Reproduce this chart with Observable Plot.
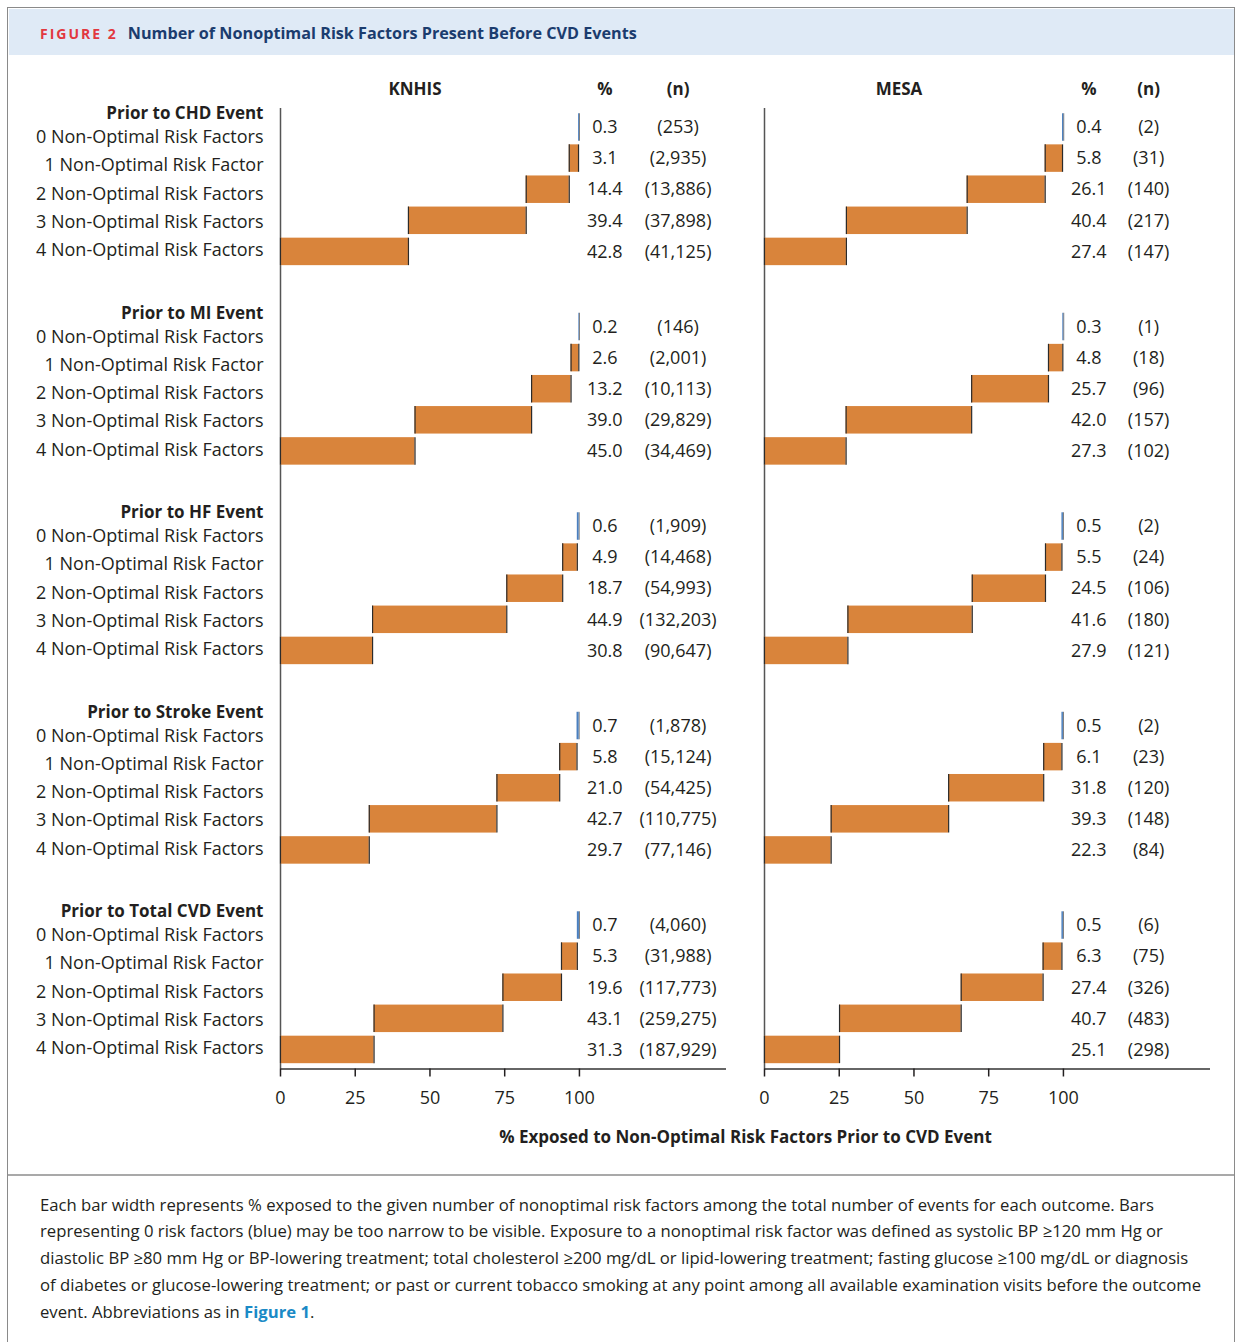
<!DOCTYPE html>
<html>
<head>
<meta charset="utf-8">
<script src="https://cdn.jsdelivr.net/npm/d3@7"></script>
<script src="https://cdn.jsdelivr.net/npm/@observablehq/plot@0.6"></script>
<style>
  body { margin: 0; width: 1238px; height: 1342px; overflow: hidden; position: relative;
         font-family: 'Open Sans', sans-serif; color: #231f20; background: #fff; }
  #box { position: absolute; left: 7px; top: 7px; width: 1228px; height: 1360px;
         border: 1.5px solid #8a8a8a; box-sizing: border-box; }
  #head { position: absolute; left: 8.5px; top: 8.5px; width: 1225px; height: 46px; background: #dfeaf6; }
  #title { position: absolute; left: 40px; top: 33px; transform: translateY(-50%);
           white-space: nowrap; font-weight: 700; }
  #title .fig { color: #e2383f; font-size: 14px; letter-spacing: 2px; margin-right: 10px; }
  #title .ttl { color: #1b3c6e; font-size: 16.2px; }
  #chart { position: absolute; left: 0; top: 60px; }
  #sep { position: absolute; left: 8px; top: 1174px; width: 1226px; height: 2px; background: #a9a9a9; }
  #caption { position: absolute; left: 40px; top: 1191.5px; font-size: 16.7px; line-height: 26.8px;
             white-space: nowrap; color: #231f20; }
  #caption b { color: #1a8ac6; }
  g[aria-label="x-axis label"] text { font-weight: 700; font-size: 17px; }
</style>
</head>
<body>
<div id="box"></div>
<div id="head"></div>
<div id="title"><span class="fig">FIGURE 2</span><span class="ttl">Number of Nonoptimal Risk Factors Present Before CVD Events</span></div>
<div id="chart"></div>
<div id="sep"></div>
<div id="caption">Each bar width represents % exposed to the given number of nonoptimal risk factors among the total number of events for each outcome. Bars<br>representing 0 risk factors (blue) may be too narrow to be visible. Exposure to a nonoptimal risk factor was defined as systolic BP &ge;120 mm Hg or<br>diastolic BP &ge;80 mm Hg or BP-lowering treatment; total cholesterol &ge;200 mg/dL or lipid-lowering treatment; fasting glucose &ge;100 mg/dL or diagnosis<br>of diabetes or glucose-lowering treatment; or past or current tobacco smoking at any point among all available examination visits before the outcome<br>event. Abbreviations as in <b>Figure 1</b>.</div>
<script>
// Cohorts, outcome groups and row labels
const cohorts = ["KNHIS", "MESA"];
const groups = ["Prior to CHD Event", "Prior to MI Event", "Prior to HF Event",
                "Prior to Stroke Event", "Prior to Total CVD Event"];
const rowLabels = ["0 Non-Optimal Risk Factors", "1 Non-Optimal Risk Factor",
                   "2 Non-Optimal Risk Factors", "3 Non-Optimal Risk Factors",
                   "4 Non-Optimal Risk Factors"];
const xTicks = [0, 25, 50, 75, 100];

// % of events with 0..4 non-optimal risk factors, one row per outcome
const knhisPct = [
  [0.3, 3.1, 14.4, 39.4, 42.8],
  [0.2, 2.6, 13.2, 39.0, 45.0],
  [0.6, 4.9, 18.7, 44.9, 30.8],
  [0.7, 5.8, 21.0, 42.7, 29.7],
  [0.7, 5.3, 19.6, 43.1, 31.3]
];
const knhisN = [
  [253, 2935, 13886, 37898, 41125],
  [146, 2001, 10113, 29829, 34469],
  [1909, 14468, 54993, 132203, 90647],
  [1878, 15124, 54425, 110775, 77146],
  [4060, 31988, 117773, 259275, 187929]
];
const mesaPct = [
  [0.4, 5.8, 26.1, 40.4, 27.4],
  [0.3, 4.8, 25.7, 42.0, 27.3],
  [0.5, 5.5, 24.5, 41.6, 27.9],
  [0.5, 6.1, 31.8, 39.3, 22.3],
  [0.5, 6.3, 27.4, 40.7, 25.1]
];
const mesaN = [
  [2, 31, 140, 217, 147],
  [1, 18, 96, 157, 102],
  [2, 24, 106, 180, 121],
  [2, 23, 120, 148, 84],
  [6, 75, 326, 483, 298]
];

// Layout (in row units along y, percent along x)
const GROUP_PITCH = 6.415;      // distance between outcome groups
const BAR_HALF = 0.442;         // half bar thickness
const LABEL_PITCH = 0.908;      // spacing of the left-hand labels
const Y_TOP = -0.611, Y_BOTTOM = 30.273;
const PCT_COL = 108.5;
const N_COL = {KNHIS: 133, MESA: 128.5};
const ORANGE = "#d9843b", BLUE = "#4a7fbf", INK = "#231f20";

const source = {KNHIS: [knhisPct, knhisN], MESA: [mesaPct, mesaN]};
const bars = [];
for (const cohort of cohorts) {
  const [pct, n] = source[cohort];
  groups.forEach((group, g) => {
    // stair-step: 4 risk factors starts at 0, each lower count continues to the right
    let x = 0;
    for (let r = 4; r >= 0; --r) {
      bars.push({cohort, group, r, x1: x, x2: x + pct[g][r], pct: pct[g][r], n: n[g][r],
                 y: g * GROUP_PITCH + r});
      x += pct[g][r];
    }
  });
}

const groupTitles = [];
const rowTexts = [];
groups.forEach((group, g) => {
  const base = g * GROUP_PITCH + 4;
  groupTitles.push({cohort: "KNHIS", text: group, y: base - 4 * LABEL_PITCH - 0.804});
  rowLabels.forEach((label, r) => {
    rowTexts.push({cohort: "KNHIS", text: label, y: base - (4 - r) * LABEL_PITCH - 0.05});
  });
});

const headers = cohorts.flatMap(cohort => [
  {cohort, text: cohort, x: 45},
  {cohort, text: "%", x: PCT_COL},
  {cohort, text: "(n)", x: N_COL[cohort]}
]);

const fmt = d3.format(",");
const lower = d => d.y - BAR_HALF, upper = d => d.y + BAR_HALF;

const chart = Plot.plot({
  width: 1238,
  height: 1100,
  marginLeft: 280,
  marginRight: 28,
  marginTop: 48,
  marginBottom: 91.5,
  style: {fontFamily: "'Open Sans', sans-serif", fontSize: "18px", color: INK, background: "transparent"},
  fx: {domain: cohorts, axis: null, paddingInner: 38 / 484, paddingOuter: 0},
  x: {domain: [0, 149.2]},
  y: {domain: [Y_TOP, Y_BOTTOM], reverse: true, axis: null},
  marks: [
    Plot.ruleX([0], {stroke: "#555", strokeWidth: 1.5}),
    Plot.ruleY([Y_BOTTOM], {stroke: "#333", strokeWidth: 1.5}),
    Plot.axisX({
      ticks: xTicks, tickSize: 8, tickPadding: 14, strokeWidth: 1.5,
      label: "% Exposed to Non-Optimal Risk Factors Prior to CVD Event",
      labelAnchor: "center", labelOffset: 74, labelArrow: "none"
    }),
    // right edge of the 0-factor bar
    Plot.ruleX(bars.filter(d => d.r === 0), {fx: "cohort", x: "x2", y1: lower, y2: upper, stroke: "#777", strokeWidth: 1}),
    Plot.rect(bars, {fx: "cohort", x1: "x1", x2: "x2", y1: lower, y2: upper,
                     fill: d => d.r === 0 ? BLUE : ORANGE}),
    // dark edges on each side of the orange steps
    Plot.ruleX(bars.filter(d => d.r > 0), {fx: "cohort", x: "x1", y1: lower, y2: upper, stroke: "#2b2b2b", strokeWidth: 1.2}),
    Plot.ruleX(bars.filter(d => d.r > 0), {fx: "cohort", x: "x2", y1: lower, y2: upper, stroke: "#2b2b2b", strokeWidth: 1.2}),
    // % and (n) columns
    Plot.text(bars, {fx: "cohort", x: () => PCT_COL, y: "y", text: d => d.pct.toFixed(1), fontSize: 18, fill: INK}),
    Plot.text(bars, {fx: "cohort", x: d => N_COL[d.cohort], y: "y", text: d => `(${fmt(d.n)})`, fontSize: 18, fill: INK}),
    // column headers
    Plot.text(headers, {fx: "cohort", x: "x", frameAnchor: "top", lineAnchor: "middle", dy: -19, text: "text",
                        fontSize: 17, fontWeight: 700, fill: INK}),
    // outcome titles and row labels on the left
    Plot.text(groupTitles, {fx: "cohort", x: () => 0, y: "y", dx: -17, text: "text", textAnchor: "end",
                            fontSize: 17, fontWeight: 700, fill: INK}),
    Plot.text(rowTexts, {fx: "cohort", x: () => 0, y: "y", dx: -17, text: "text", textAnchor: "end",
                         fontSize: 18, fill: INK})
  ]
});
document.getElementById("chart").appendChild(chart);
</script>
</body>
</html>
